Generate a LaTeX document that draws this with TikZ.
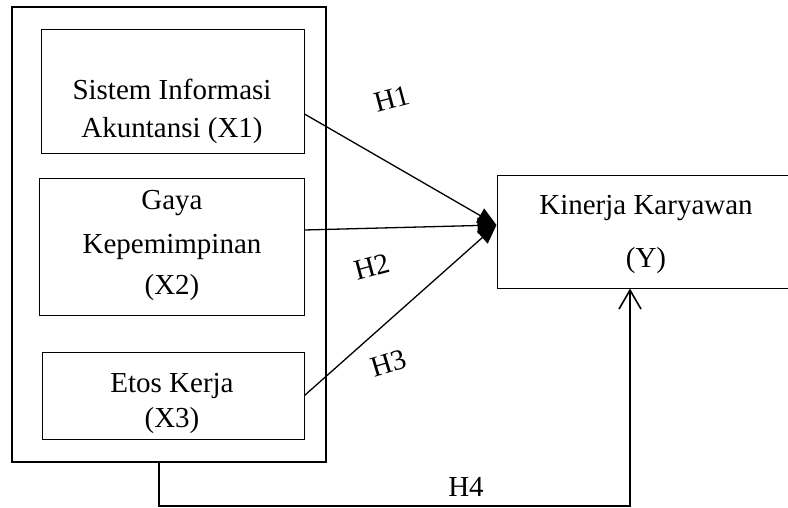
\documentclass[tikz,border=0pt]{standalone}
\usepackage{fontspec}
\setmainfont{Liberation Serif}
\usetikzlibrary{arrows.meta}

\tikzset{
    varbox/.style={draw, line width=1pt, inner sep=0pt},
    boxtext/.style={font=\fontsize{29}{35}\selectfont, align=center, inner sep=0pt},
    hyp/.style={font=\fontsize{29}{35}\selectfont, inner sep=0pt},
    link/.style={line width=1.3pt, -{Triangle[length=19pt,width=16pt]}},
}

\begin{document}
\begin{tikzpicture}[x=1pt, y=-1pt]
    \clip (0,0) rectangle (788,508);

    % Outer frame of the independent variables
    \node[draw, line width=2pt, minimum width=314pt, minimum height=455pt, inner sep=0pt] (frame) at (169,234.5) {};

    % Independent variables
    \node[varbox, minimum width=263pt, minimum height=124pt] (sia) at (172.5,92) {};
    \node[boxtext] (sia-txt) at (172,111) {Sistem Informasi\\[3pt]Akuntansi (X1)};

    \node[varbox, minimum width=265pt, minimum height=136pt] (gaya) at (171.5,247) {};
    \node[boxtext] (gaya-txt) at (172,245) {Gaya\\[9pt]Kepemimpinan\\[6pt](X2)};

    \node[varbox, minimum width=262pt, minimum height=87pt] (etos) at (173,395.5) {};
    \node[boxtext] (etos-txt) at (172,403) {Etos Kerja\\(X3)};

    % Dependent variable
    \node[varbox, minimum width=298pt, minimum height=112pt] (kin) at (646,232) {};
    \node[boxtext] (kin-txt) at (646,234) {Kinerja Karyawan\\[18pt](Y)};

    % Hypotheses
    \coordinate (tip) at ([yshift=7pt]kin.west);
    \draw[link] ([yshift=-22pt]sia.east) -- (tip);
    \draw[link] ([yshift=17pt]gaya.east) -- (tip);
    \draw[link] (etos.east) -- (tip);
    \node[hyp, rotate=15] (h1) at (392,99) {H1};
    \node[hyp, rotate=15] (h2) at (372,267) {H2};
    \node[hyp, rotate=17] (h3) at (389,363) {H3};

    % Simultaneous effect
    \draw[line width=2pt, -{Straight Barb[length=19pt,width=22pt,line width=1.6pt]}]
        ([xshift=-10pt,yshift=2pt]frame.south) -- ++(0,45) -| ([xshift=-16pt]kin.south);
    \node[hyp] (h4) at (466,487) {H4};
\end{tikzpicture}
\end{document}
